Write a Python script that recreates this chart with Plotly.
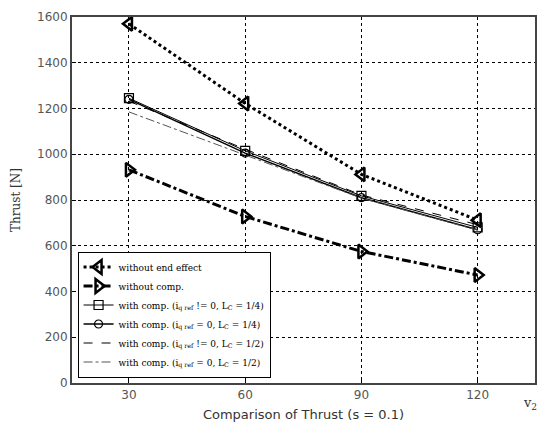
import plotly.graph_objects as go

x_vals = [30, 60, 90, 120]
no_end_effect = [1570, 1222, 912, 712]
no_comp = [932, 728, 575, 472]
comp_q_ne0_L4 = [1245, 1015, 818, 680]
comp_q_eq0_L4 = [1240, 1005, 810, 670]
comp_q_ne0_L2 = [1232, 1022, 822, 692]
comp_q_eq0_L2 = [1185, 995, 808, 668]

names = [
    "without end effect",
    "without comp.",
    "with comp. (i<sub>q ref</sub> != 0, L<sub>C</sub> = 1/4)",
    "with comp. (i<sub>q ref</sub> = 0, L<sub>C</sub> = 1/4)",
    "with comp. (i<sub>q ref</sub> != 0, L<sub>C</sub> = 1/2)",
    "with comp. (i<sub>q ref</sub> = 0, L<sub>C</sub> = 1/2)",
]

fig = go.Figure()
fig.add_trace(go.Scatter(x=x_vals, y=no_end_effect, name=names[0], mode="lines+markers",
                         line=dict(color="black", width=3, dash="dot"),
                         marker=dict(symbol="triangle-left-open", size=12, color="black", line=dict(width=2.5, color="black"))))
fig.add_trace(go.Scatter(x=x_vals, y=no_comp, name=names[1], mode="lines+markers",
                         line=dict(color="black", width=3, dash="dashdot"),
                         marker=dict(symbol="triangle-right-open", size=12, color="black", line=dict(width=2.5, color="black"))))
fig.add_trace(go.Scatter(x=x_vals, y=comp_q_ne0_L4, name=names[2], mode="lines+markers",
                         line=dict(color="black", width=1),
                         marker=dict(symbol="square-open", size=9, color="black", line=dict(width=1.2, color="black"))))
fig.add_trace(go.Scatter(x=x_vals, y=comp_q_eq0_L4, name=names[3], mode="lines+markers",
                         line=dict(color="black", width=1.5),
                         marker=dict(symbol="circle-open", size=8, color="black", line=dict(width=1.2, color="black"))))
fig.add_trace(go.Scatter(x=x_vals, y=comp_q_ne0_L2, name=names[4], mode="lines",
                         line=dict(color="black", width=1, dash="dash")))
fig.add_trace(go.Scatter(x=x_vals, y=comp_q_eq0_L2, name=names[5], mode="lines",
                         line=dict(color="#555555", width=1, dash="dashdot")))

axis_common = dict(showgrid=True, gridcolor="black", griddash="dot", gridwidth=1,
                   showline=True, linecolor="#444444", linewidth=2, mirror=True,
                   ticks="inside", tickcolor="black", ticklen=4, zeroline=False,
                   tickfont=dict(family="DejaVu Sans", size=12, color="#555555"))

fig.update_xaxes(range=[15.3, 134.8], tickvals=[30, 60, 90, 120], **axis_common,
                 title=dict(text="Comparison of Thrust (s = 0.1)", font=dict(family="DejaVu Sans", size=13, color="#333333"), standoff=8))
fig.update_yaxes(range=[0, 1600], tickvals=[0, 200, 400, 600, 800, 1000, 1200, 1400, 1600], **axis_common,
                 title=dict(text="Thrust [N]", font=dict(family="DejaVu Serif", size=12, color="#333333"), standoff=14))

fig.add_annotation(text="v<sub>2</sub>", x=1.008, y=-0.085, xref="paper", yref="paper", showarrow=False,
                   xanchor="right", font=dict(family="DejaVu Serif", size=13, color="#333333"))

fig.update_layout(
    width=540, height=430,
    margin=dict(l=72, r=3, t=17, b=47),
    plot_bgcolor="white", paper_bgcolor="white",
    legend=dict(x=0.012, y=0.015, xanchor="left", yanchor="bottom",
                bgcolor="white", bordercolor="black", borderwidth=1,
                font=dict(family="DejaVu Serif", size=9, color="black"),
                tracegroupgap=0, itemwidth=30),
)

fig.write_html("out.html")
